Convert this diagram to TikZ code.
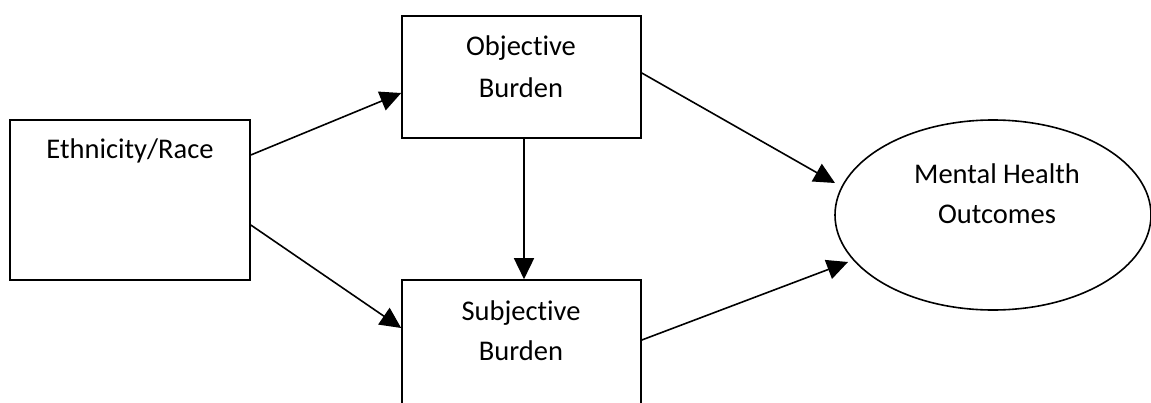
\documentclass[tikz,border=0pt]{standalone}
\usepackage{fontspec}
\setmainfont[Ligatures={NoCommon,NoRare}]{Carlito}
\usetikzlibrary{arrows.meta,calc,shapes.geometric}
\begin{document}
\begin{tikzpicture}[x=1pt,y=-1pt,
  box/.style={draw=black,line width=1.6pt,rectangle,inner sep=0pt},
  oval/.style={draw=black,line width=1.6pt,ellipse,inner sep=0pt},
  lbl/.style={anchor=base,inner sep=0pt,font=\fontsize{28.5}{41}\selectfont},
  arr/.style={line width=1.6pt,-{Triangle[length=21pt,width=20pt]}}]
\useasboundingbox (0,0) rectangle (1151,402);
\clip (0,0) rectangle (1151,402);
\node[box,minimum width=240pt,minimum height=160pt] (eth) at (130,200) {};
\node[box,minimum width=239pt,minimum height=122pt] (obj) at (521.5,77) {};
\node[box,minimum width=239pt,minimum height=140pt] (sub) at (521.5,350) {};
\node[oval,minimum width=316pt,minimum height=190pt] (mho) at (993,215) {};
\node[lbl] (ethT) at (130,158) {Ethnicity/Race};
\node[lbl] (objT1) at (521,55) {Objective};
\node[lbl] (objT2) at (521,97) {Burden};
\node[lbl] (subT1) at (521,320) {Subjective};
\node[lbl] (subT2) at (521,360) {Burden};
\node[lbl] (mhoT1) at (997,183) {Mental Health};
\node[lbl] (mhoT2) at (997,223) {Outcomes};
\coordinate (mhoA) at ($(mho.center)+(-158,-32)$);
\coordinate (mhoB) at ($(mho.center)+(-145,47)$);
\draw[arr] ([yshift=45pt]eth.east) -- ([yshift=-16pt]obj.west);
\draw[arr] ([yshift=-25pt]eth.east) -- ([yshift=22pt]sub.west);
\draw[arr] ([xshift=2.5pt]obj.south) -- ([xshift=2.5pt]sub.north);
\draw[arr] ([yshift=4pt]obj.east) -- (mhoA);
\draw[arr] ([yshift=10pt]sub.east) -- (mhoB);
\end{tikzpicture}
\end{document}
